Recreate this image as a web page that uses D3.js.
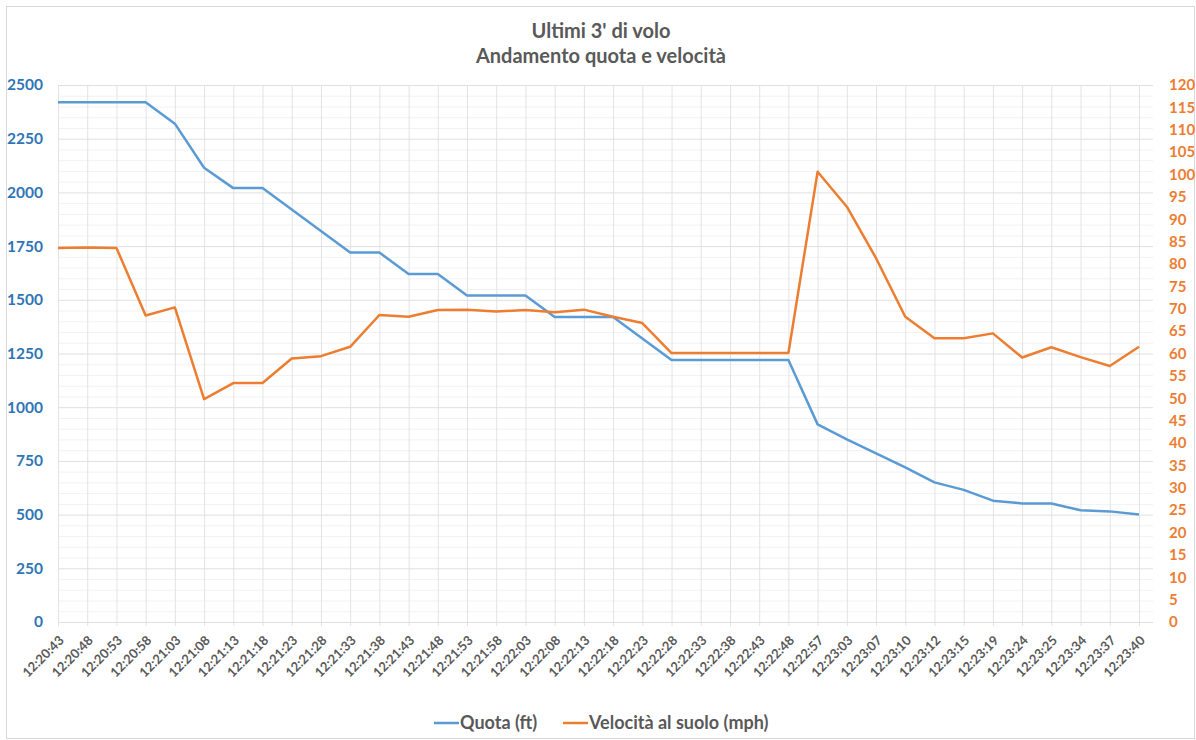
<!DOCTYPE html>
<html><head><meta charset="utf-8">
<script src="https://cdn.jsdelivr.net/npm/d3@7"></script>
<style>body{margin:0;background:#fff;font-family:Lato,"Open Sans",sans-serif;}</style>
</head><body>
<svg id="chart" width="1196" height="740"></svg>
<script>
const categories = ["12:20:43","12:20:48","12:20:53","12:20:58","12:21:03","12:21:08","12:21:13","12:21:18","12:21:23","12:21:28","12:21:33","12:21:38","12:21:43","12:21:48","12:21:53","12:21:58","12:22:03","12:22:08","12:22:13","12:22:18","12:22:23","12:22:28","12:22:33","12:22:38","12:22:43","12:22:48","12:22:57","12:23:03","12:23:07","12:23:10","12:23:12","12:23:15","12:23:19","12:23:24","12:23:25","12:23:34","12:23:37","12:23:40"];
const quota = [2420,2420,2420,2420,2320,2115,2020,2020,1920,1820,1720,1720,1620,1620,1520,1520,1520,1420,1420,1420,1320,1220,1220,1220,1220,1220,920,850,785,720,650,615,565,552,552,520,515,500];
const velocita = [83.6,83.7,83.6,68.5,70.3,49.8,53.4,53.4,58.9,59.4,61.5,68.6,68.2,69.7,69.8,69.4,69.7,69.2,69.8,68.2,66.8,60.1,60.1,60.1,60.1,60.1,100.6,92.8,81.3,68.2,63.4,63.4,64.5,59.1,61.4,59.2,57.2,61.5];
const leftTicks = [0,250,500,750,1000,1250,1500,1750,2000,2250,2500];
const rightTicks = d3.range(0,121,5);
const seriesNames = ["Quota (ft)","Velocità al suolo (mph)"];
const colors = ["#5B9BD5","#ED7D31"];

const svg = d3.select("#chart");
const L=58, R=1139, gridR=1153, T=85, B=622;
svg.append("rect").attr("x",6.5).attr("y",6.5).attr("width",1188).attr("height",732)
  .attr("fill","#fff").attr("stroke","#d9d9d9");

const x = d3.scalePoint().domain(categories).range([L,R]);
const yL = d3.scaleLinear().domain([0,2500]).range([B,T]);
const yR = d3.scaleLinear().domain([0,120]).range([B,T]);

const g = svg.append("g");
g.selectAll("line.minor").data(d3.range(0,2501,50).filter(v=>v%250!==0)).join("line")
  .attr("x1",L).attr("x2",gridR).attr("y1",d=>yL(d)+0.5).attr("y2",d=>yL(d)+0.5)
  .attr("stroke","#f2f2f2").attr("stroke-width",1);
g.selectAll("line.v").data(categories).join("line")
  .attr("x1",d=>x(d)+0.5).attr("x2",d=>x(d)+0.5).attr("y1",T).attr("y2",B+4)
  .attr("stroke","#e3e3e3");
g.selectAll("line.major").data(leftTicks).join("line")
  .attr("x1",L).attr("x2",gridR).attr("y1",d=>yL(d)+0.5).attr("y2",d=>yL(d)+0.5)
  .attr("stroke","#e0e0e0");

const axL = svg.append("g").attr("transform",`translate(${L},0)`)
  .call(d3.axisLeft(yL).tickValues(leftTicks).tickFormat(d3.format("d")).tickSize(0).tickPadding(15));
axL.select(".domain").remove();
axL.selectAll("text").attr("fill","#2E75B6").attr("font-size",15.5).attr("font-weight","bold").attr("font-family","Lato");

const axR = svg.append("g").attr("transform",`translate(${gridR},0)`)
  .call(d3.axisRight(yR).tickValues(rightTicks).tickSize(0).tickPadding(16));
axR.select(".domain").remove();
axR.selectAll("text").attr("fill","#ED7D31").attr("font-size",15).attr("font-weight","bold").attr("font-family","Lato");

const axB = svg.append("g").attr("transform",`translate(0,${B})`)
  .call(d3.axisBottom(x).tickSize(0).tickPadding(0));
axB.select(".domain").remove();
axB.selectAll("text").attr("fill","#595959").attr("font-size",13).attr("font-weight","bold").attr("font-family","Lato")
  .attr("text-anchor","end").attr("dy","0.35em").attr("y",0).attr("transform","translate(3,16) rotate(-45)");

const lineL = d3.line().x((d,i)=>x(categories[i])).y(d=>yL(d));
const lineR = d3.line().x((d,i)=>x(categories[i])).y(d=>yR(d));
svg.append("path").datum(quota).attr("d",lineL).attr("fill","none").attr("stroke",colors[0]).attr("stroke-width",2.5).attr("stroke-linejoin","round");
svg.append("path").datum(velocita).attr("d",lineR).attr("fill","none").attr("stroke",colors[1]).attr("stroke-width",2.5).attr("stroke-linejoin","round");

svg.append("text").attr("x",601).attr("y",38).attr("text-anchor","middle").attr("fill","#595959")
  .attr("font-size",20).attr("font-weight","bold").text("Ultimi 3' di volo");
svg.append("text").attr("x",601).attr("y",63).attr("text-anchor","middle").attr("fill","#595959")
  .attr("font-size",20).attr("font-weight","bold").text("Andamento quota e velocità");

const lx = [434,563];
seriesNames.forEach((n,i)=>{
  svg.append("line").attr("x1",lx[i]).attr("x2",lx[i]+25).attr("y1",723).attr("y2",723)
    .attr("stroke",colors[i]).attr("stroke-width",2.5);
  svg.append("text").attr("x",lx[i]+26).attr("y",729).attr("fill","#595959")
    .attr("font-size",18).attr("font-weight","bold").text(n);
});
</script>
</body></html>
